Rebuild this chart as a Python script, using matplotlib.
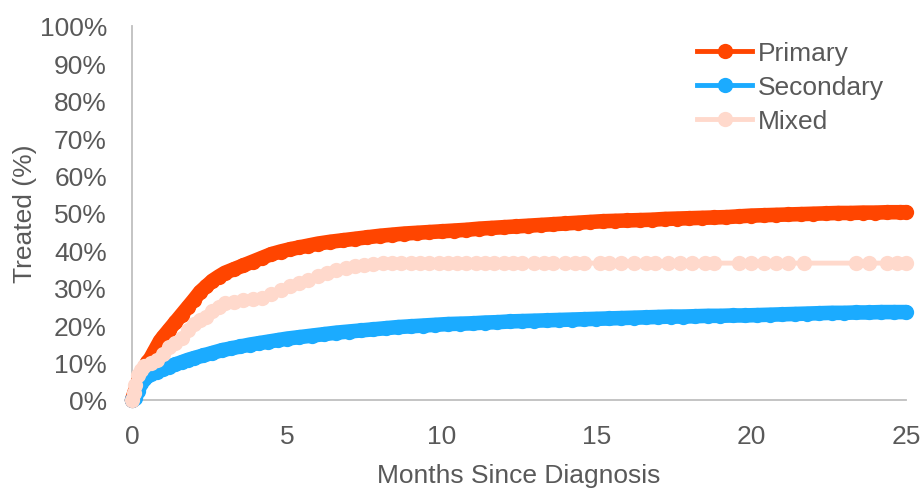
import matplotlib
matplotlib.use("Agg")
import matplotlib.pyplot as plt
from matplotlib.lines import Line2D
from matplotlib.ticker import FixedLocator, FuncFormatter

# Cumulative share of patients treated, by months since diagnosis
primary_months = [0.0, 0.1, 0.2, 0.3, 0.4, 0.5, 0.6, 0.7, 0.8, 0.9, 1.0, 1.2, 1.4, 1.6,
                  1.8, 2.0, 2.2, 2.4, 2.6, 2.8, 3.0, 3.3, 3.6, 3.9, 4.2, 4.5, 4.8, 5.1,
                  5.4, 5.7, 6.0, 6.4, 6.8, 7.2, 7.6, 8.0, 8.4, 8.8, 9.2, 9.6, 10.0,
                  10.4, 10.8, 11.2, 11.6, 12.0, 12.4, 12.8, 13.2, 13.6, 14.0, 14.4,
                  14.8, 15.2, 15.6, 16.0, 16.4, 16.8, 17.2, 17.6, 18.0, 18.4, 18.8,
                  19.2, 19.6, 20.0, 20.4, 20.8, 21.2, 21.6, 22.0, 22.4, 22.8, 23.2,
                  23.6, 24.0, 24.4, 24.8, 25.0]
primary_pct = [0.0, 2.5, 5.0, 7.0, 8.6, 10.1, 11.2, 12.7, 14.2, 15.7, 16.8, 18.8, 20.8,
               22.8, 24.8, 26.8, 28.9, 30.4, 31.9, 33.0, 34.0, 35.0, 36.0, 37.0, 38.0,
               39.0, 39.7, 40.3, 40.8, 41.3, 41.8, 42.3, 42.7, 43.1, 43.5, 43.9, 44.2,
               44.5, 44.7, 44.9, 45.1, 45.3, 45.5, 45.8, 46.0, 46.2, 46.4, 46.6, 46.8,
               47.0, 47.2, 47.4, 47.6, 47.8, 47.9, 48.0, 48.1, 48.2, 48.4, 48.5, 48.6,
               48.7, 48.8, 48.9, 49.1, 49.3, 49.4, 49.5, 49.6, 49.7, 49.8, 49.9, 50.0,
               50.0, 50.1, 50.1, 50.2, 50.2, 50.2]

secondary_months = [0.0, 0.1, 0.2, 0.3, 0.4, 0.5, 0.6, 0.8, 1.0, 1.2, 1.4, 1.6, 1.8, 2.0,
                    2.3, 2.6, 2.9, 3.2, 3.5, 3.8, 4.1, 4.4, 4.7, 5.0, 5.4, 5.8, 6.2,
                    6.6, 7.0, 7.4, 7.8, 8.2, 8.6, 9.0, 9.4, 9.8, 10.2, 10.6, 11.0, 11.4,
                    11.8, 12.2, 12.6, 13.0, 13.4, 13.8, 14.2, 14.6, 15.0, 15.4, 15.8,
                    16.2, 16.6, 17.0, 17.4, 17.8, 18.2, 18.6, 19.0, 19.4, 19.8, 20.2,
                    20.6, 21.0, 21.4, 21.8, 22.2, 22.6, 23.0, 23.4, 23.8, 24.2, 24.6, 25.0]
secondary_pct = [0.0, 0.5, 2.5, 4.6, 5.6, 6.3, 6.9, 7.6, 8.3, 8.9, 9.5, 10.1, 10.7, 11.2,
                 11.9, 12.6, 13.3, 13.8, 14.3, 14.8, 15.2, 15.6, 16.0, 16.4, 16.8, 17.2,
                 17.6, 18.0, 18.3, 18.6, 18.9, 19.2, 19.5, 19.7, 19.9, 20.1, 20.3, 20.4,
                 20.5, 20.7, 20.8, 21.0, 21.1, 21.2, 21.3, 21.4, 21.5, 21.6, 21.7, 21.8,
                 21.9, 22.0, 22.1, 22.2, 22.3, 22.3, 22.4, 22.5, 22.5, 22.6, 22.6, 22.7,
                 22.8, 22.9, 23.0, 23.1, 23.2, 23.3, 23.3, 23.4, 23.4, 23.5, 23.5, 23.5]

mixed_months = [0.0, 0.05, 0.1, 0.2, 0.3, 0.4, 0.6, 0.8, 1.0, 1.2, 1.4, 1.6, 1.8, 2.0,
                2.2, 2.4, 2.6, 2.8, 3.0, 3.3, 3.6, 3.9, 4.2, 4.5, 4.8, 5.1, 5.4, 5.7,
                6.0, 6.3, 6.6, 6.9, 7.2, 7.5, 7.8, 8.1, 8.4, 8.7, 9.0, 9.3, 9.6, 9.9,
                10.2, 10.5, 10.8, 11.1, 11.4, 11.7, 12.0, 12.3, 12.6, 13.0, 13.3, 13.6,
                14.0, 14.3, 14.6, 15.1, 15.4, 15.8, 16.2, 16.6, 16.9, 17.3, 17.7, 18.1,
                18.5, 18.8, 19.6, 20.0, 20.4, 20.8, 21.2, 21.7, 23.4, 23.8, 24.4, 24.7,
                25.0]
mixed_pct = [0.0, 2.0, 4.0, 6.6, 8.1, 9.1, 9.9, 10.6, 12.2, 14.2, 15.2, 16.7, 18.7, 20.3,
             21.3, 22.3, 23.8, 24.8, 25.8, 26.3, 26.6, 26.9, 27.3, 28.3, 29.4, 30.4,
             31.2, 32.2, 33.2, 33.9, 34.7, 35.4, 35.9, 36.2, 36.4, 36.5, 36.6, 36.6,
             36.6, 36.6, 36.6, 36.6, 36.6, 36.6, 36.6, 36.6, 36.6, 36.6, 36.6, 36.6,
             36.6, 36.6, 36.6, 36.6, 36.6, 36.6, 36.6, 36.6, 36.6, 36.6, 36.6, 36.6,
             36.6, 36.6, 36.6, 36.6, 36.6, 36.6, 36.6, 36.6, 36.6, 36.6, 36.6, 36.6,
             36.6, 36.6, 36.6, 36.6, 36.6]

series_names = ["Primary", "Secondary", "Mixed"]
series_colors = ["#FF4500", "#1BABFF", "#FFD9CC"]
x_ticks = [0, 5, 10, 15, 20, 25]
y_ticks = [0, 10, 20, 30, 40, 50, 60, 70, 80, 90, 100]

text_gray = "#595959"
axis_gray = "#BFBFBF"
font_size = 19
marker_size = 11
thin_line = 3.5
# dense event markers merge into a solid band for the two large cohorts
band_widths = [10.5, 10.5, thin_line]

plt.rcParams["font.family"] = ["Liberation Sans", "DejaVu Sans"]

fig = plt.figure(figsize=(9.23, 4.89), dpi=100)
ax = fig.add_axes([0.1430, 0.1800, 0.8386, 0.7648])

series = [(primary_months, primary_pct), (secondary_months, secondary_pct),
          (mixed_months, mixed_pct)]
handles = []
for (xs, ys), name, color, lw, z in zip(series, series_names, series_colors,
                                         band_widths, [3, 4, 5]):
    ax.plot(xs, ys, color=color, linewidth=lw, marker="o", markersize=marker_size,
            markeredgewidth=0, clip_on=False, zorder=z,
            solid_capstyle="round", solid_joinstyle="round")
    handles.append(Line2D([], [], color=color, linewidth=thin_line, marker="o",
                          markersize=marker_size, markeredgewidth=0, label=name))

ax.set_xlim(0, 25)
ax.set_ylim(0, 100)
ax.xaxis.set_major_locator(FixedLocator(x_ticks))
ax.yaxis.set_major_locator(FixedLocator(y_ticks))
ax.yaxis.set_major_formatter(FuncFormatter(lambda v, _: f"{v:.0f}%"))
ax.xaxis.set_major_formatter(FuncFormatter(lambda v, _: f"{v:.0f}"))

for side in ("top", "right"):
    ax.spines[side].set_visible(False)
for side in ("left", "bottom"):
    ax.spines[side].set_color(axis_gray)
    ax.spines[side].set_linewidth(1.3)
    ax.spines[side].set_zorder(1)

ax.tick_params(axis="both", length=0, labelsize=font_size, labelcolor=text_gray)
ax.tick_params(axis="y", pad=18)
ax.tick_params(axis="x", pad=17)

ax.set_xlabel("Months Since Diagnosis", fontsize=font_size, color=text_gray)
ax.set_ylabel("Treated (%)", fontsize=font_size, color=text_gray)
ax.xaxis.set_label_coords(0.5, -0.168)
ax.yaxis.set_label_coords(-0.123, 0.5)

leg = ax.legend(handles=handles, loc="upper left", bbox_to_anchor=(0.73, 0.959),
                frameon=False, fontsize=font_size, handlelength=2.1,
                handletextpad=0.2, labelspacing=0.37, borderpad=0,
                borderaxespad=0, numpoints=1)
for text in leg.get_texts():
    text.set_color(text_gray)

fig.savefig("out.png", dpi=100, facecolor="white")
